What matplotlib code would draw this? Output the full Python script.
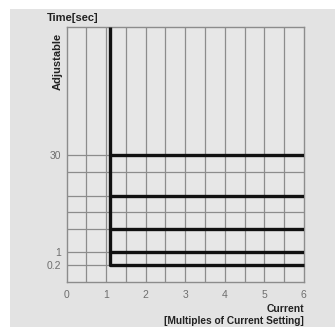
import matplotlib.pyplot as plt
from matplotlib.patches import Rectangle

# Eje horizontal: multiplos de la corriente de ajuste
x_ticks = [0, 1, 2, 3, 4, 5, 6]
x_grid = [0.5, 1.5, 2.5, 3.5, 4.5, 5.5]

# Eje vertical esquematico (posicion relativa 0..100)
y_tick_pos = [49.8, 11.9, 6.7]
y_tick_labels = ["30", "1", "0.2"]
y_grid = [49.8, 43.0, 33.7, 27.5, 20.7, 11.9, 6.7]

# Curva ajustable: corriente de arranque y niveles de tiempo
x_pickup = 1.1
niveles = [49.8, 33.7, 20.7, 11.9]
nivel_min = 6.7

COLOR_BG = "#e3e3e3"
COLOR_AX = "#e7e7e7"
COLOR_GRID = "#8c8c8c"
COLOR_TICK = "#6e6e6e"
COLOR_TEXT = "#222222"

plt.rcParams["font.family"] = ["Liberation Sans", "DejaVu Sans"]

fig = plt.figure(figsize=(3.35, 3.27), dpi=100)
fig.patch.set_facecolor("white")
fig.add_artist(Rectangle((10 / 335, 0), 1, 1 - 9 / 327, transform=fig.transFigure,
                         facecolor=COLOR_BG, edgecolor="none", zorder=-1))

ax = fig.add_axes([0.199, 0.138, 0.708, 0.779])
ax.set_facecolor(COLOR_AX)
ax.set_xlim(0, 6)
ax.set_ylim(0, 100)

for x in x_ticks[1:-1] + x_grid:
    ax.axvline(x, color=COLOR_GRID, lw=0.9, zorder=1)
for y in y_grid:
    ax.axhline(y, color=COLOR_GRID, lw=0.9, zorder=1)

for s in ax.spines.values():
    s.set_color(COLOR_GRID)
    s.set_linewidth(1.0)

# curva principal con esquina redondeada
ax.plot([x_pickup, x_pickup, 6], [100, nivel_min, nivel_min], color="#111111",
        lw=2.4, solid_joinstyle="round", solid_capstyle="butt", zorder=3, clip_on=False)
for n in niveles:
    ax.plot([x_pickup, 6], [n, n], color="#111111", lw=2.4,
            solid_capstyle="butt", zorder=3)

ax.set_xticks(x_ticks)
ax.set_xticklabels([str(v) for v in x_ticks])
ax.set_yticks(y_tick_pos)
ax.set_yticklabels(y_tick_labels)
ax.tick_params(length=0, labelsize=7.5, colors=COLOR_TICK, pad=6)
ax.tick_params(axis="y", pad=4)

fig.text(73 / 335, 1 - 18 / 327, "Time[sec]", ha="center", va="center",
         fontsize=8, fontweight="bold", color=COLOR_TEXT)
fig.text(58 / 335, 1 - 61 / 327, "Adjustable", ha="center", va="center",
         rotation=90, fontsize=8, fontweight="bold", color=COLOR_TEXT)
fig.text(304 / 335, 1 - 309 / 327, "Current", ha="right", va="center",
         fontsize=7.5, fontweight="bold", color=COLOR_TEXT)
fig.text(304 / 335, 1 - 321 / 327, "[Multiples of Current Setting]", ha="right",
         va="center", fontsize=7.3, fontweight="bold", color=COLOR_TEXT)

fig.savefig("out.png", dpi=100)
